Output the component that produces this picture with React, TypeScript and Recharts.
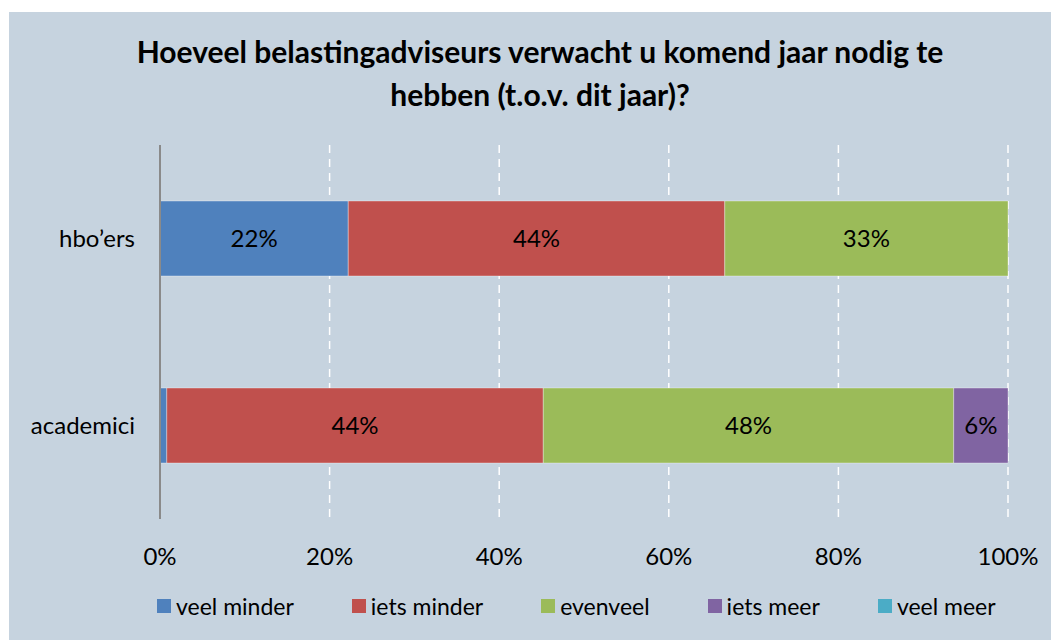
import React from "react";
import { BarChart, Bar, XAxis, YAxis, CartesianGrid, LabelList } from "recharts";

const categories = ["hbo’ers", "academici"];
const seriesNames = ["veel minder", "iets minder", "evenveel", "iets meer", "veel meer"];
const veelMinder = [22.2, 0.8];
const ietsMinder = [44.4, 44.4];
const evenveel = [33.4, 48.4];
const ietsMeer = [0, 6.4];
const veelMeer = [0, 0];
const xTicks = [0, 20, 40, 60, 80, 100];
const colors = ["#4F81BD", "#C0504D", "#9BBB59", "#8064A2", "#4BACC6"];
const titleLines = ["Hoeveel belastingadviseurs verwacht u komend jaar nodig te", "hebben (t.o.v. dit jaar)?"];

const seriesValues = [veelMinder, ietsMinder, evenveel, ietsMeer, veelMeer];
const data = categories.map((c, i) => {
  const row: Record<string, string | number> = { name: c };
  seriesNames.forEach((s, j) => {
    row[s] = seriesValues[j][i];
  });
  return row;
});

const FONT = "Lato, 'Open Sans', sans-serif";
const BG = "#C6D3DF";

const fmt = (v: any) => {
  const n = Number(v);
  return n >= 3 ? `${Math.round(n)}%` : "";
};

export default function App() {
  return (
    <div
      style={{
        position: "relative",
        marginLeft: 1,
        marginTop: 4,
        width: 1050,
        height: 628,
        background: BG,
        fontFamily: FONT,
      }}
    >
      <div
        style={{
          position: "absolute",
          top: 18,
          left: 0,
          width: 1062,
          textAlign: "center",
          fontWeight: 700,
          fontSize: 30,
          lineHeight: "43px",
          color: "#000",
        }}
      >
        {titleLines.map((l) => (
          <div key={l}>{l}</div>
        ))}
      </div>
      <div style={{ position: "absolute", top: 0, left: 0 }}>
        <BarChart
          width={1050}
          height={628}
          data={data}
          layout="vertical"
          margin={{ top: 133, right: 51, bottom: 71, left: 31 }}
          barSize={75}
        >
          <CartesianGrid
            horizontal={false}
            vertical={true}
            stroke="#FFFFFF"
            strokeWidth={1.5}
            strokeDasharray="8 6"
          />
          <XAxis
            type="number"
            domain={[0, 100]}
            ticks={xTicks}
            tickFormatter={(v) => `${v}%`}
            axisLine={false}
            tickLine={false}
            tickSize={0}
            tickMargin={29}
            height={50}
            interval={0}
            tick={{ fill: "#000", fontSize: 24, fontFamily: FONT }}
          />
          <YAxis
            type="category"
            dataKey="name"
            width={120}
            axisLine={{ stroke: "#8A8A8A", strokeWidth: 2 }}
            tickLine={false}
            tickSize={0}
            tickMargin={25}
            tick={{ fill: "#000", fontSize: 24, fontFamily: FONT }}
          />
          {seriesNames.map((s, i) => (
            <Bar
              key={s}
              dataKey={s}
              stackId="a"
              fill={colors[i]}
              stroke="#FFFFFF"
              strokeOpacity={0.35}
              strokeWidth={1}
              isAnimationActive={false}
            >
              <LabelList
                dataKey={s}
                position="center"
                formatter={fmt}
                fill="#000"
                style={{ fontSize: 24, fontFamily: FONT, fill: "#000" }}
              />
            </Bar>
          ))}
        </BarChart>
      </div>
      <div
        style={{
          position: "absolute",
          top: 580,
          left: 148,
          width: 900,
          display: "flex",
          alignItems: "center",
          height: 28,
          whiteSpace: "nowrap",
        }}
      >
        {seriesNames.map((s, i) => (
          <div
            key={s}
            style={{ display: "flex", alignItems: "center", marginRight: 58, flexShrink: 0 }}
          >
            <div style={{ width: 14, height: 14, background: colors[i], marginRight: 5, flexShrink: 0 }} />
            <span style={{ fontSize: 23, color: "#000", lineHeight: "28px" }}>{s}</span>
          </div>
        ))}
      </div>
    </div>
  );
}
